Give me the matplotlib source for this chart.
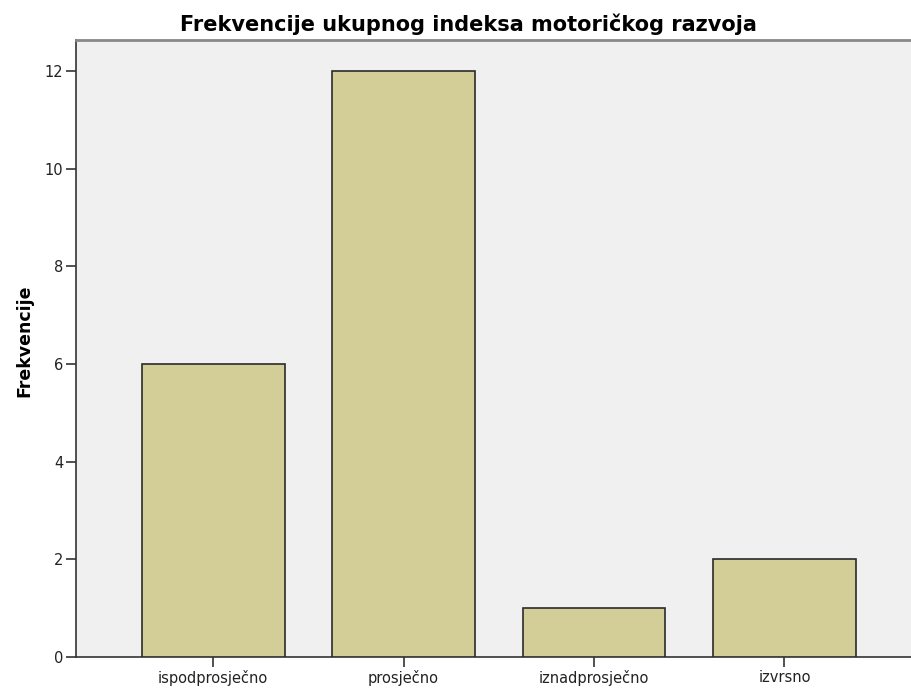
import matplotlib
matplotlib.use("Agg")
import matplotlib.pyplot as plt

categories = ["ispodprosječno", "prosječno", "iznadprosječno", "izvrsno"]
values = [6, 12, 1, 2]
yticks = [0, 2, 4, 6, 8, 10, 12]

plt.rcParams['font.family'] = ['DejaVu Sans']

fig = plt.figure(figsize=(9.12, 6.9), dpi=100)
ax = fig.add_axes([76/912, 33/690, 1 - 76/912, (657 - 39.5)/690])
ax.set_facecolor('#F0F0F0')
x = list(range(len(categories)))
ax.bar(x, values, width=0.75, color='#D3CE97', edgecolor='#2b2b2b', linewidth=1.2, zorder=3)
ax.set_xlim(-0.72, 3.67)
ax.set_ylim(0, 12.65)
ax.set_xticks(x)
ax.set_xticklabels(categories, fontsize=10.5, color='#222222')
ax.set_yticks(yticks)
ax.set_yticklabels([str(t) for t in yticks], fontsize=10.5, color='#222222')
ax.tick_params(axis='both', direction='out', length=7, width=1.2, color='#333333', pad=2)
ax.spines['right'].set_visible(False)
ax.spines['top'].set_color('#888888')
ax.spines['top'].set_linewidth(2)
for s in ['left', 'bottom']:
    ax.spines[s].set_color('#333333')
    ax.spines[s].set_linewidth(1.2)
ax.set_ylabel('Frekvencije', fontsize=12.5, fontweight='bold')
ax.yaxis.set_label_coords(-0.0514, 0.512)
ax.set_title('Frekvencije ukupnog indeksa motoričkog razvoja', fontsize=15, fontweight='bold', pad=6, x=0.470)
fig.savefig('out.png', dpi=100)
